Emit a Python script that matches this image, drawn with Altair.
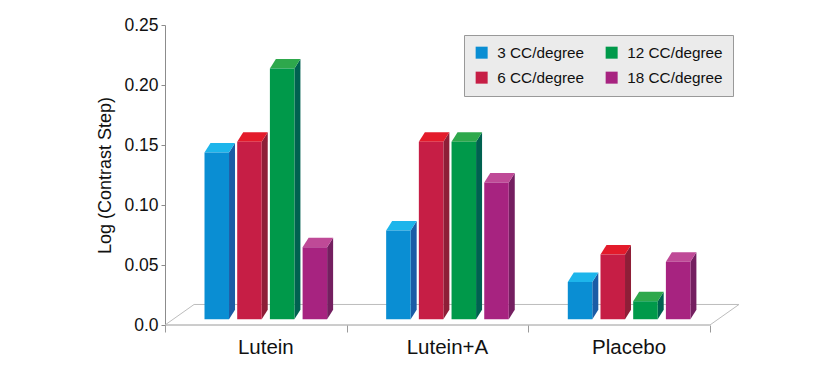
import altair as alt
import pandas as pd

# ---- data ----
groups = ["Lutein", "Lutein+A", "Placebo"]
series = ["3 CC/degree", "6 CC/degree", "12 CC/degree", "18 CC/degree"]
v3 = [0.139, 0.074, 0.031]
v6 = [0.148, 0.148, 0.054]
v12 = [0.209, 0.148, 0.015]
v18 = [0.060, 0.114, 0.048]
y_ticks = [0.0, 0.05, 0.10, 0.15, 0.20, 0.25]

# ---- styles ----
front_colors = ["#0a8ed3", "#c61e45", "#00994a", "#a72380"]
top_colors = ["#1db5eb", "#e31b2b", "#2ea84c", "#bf4a97"]
side_colors = ["#1b5ca6", "#8e1e37", "#006150", "#741f60"]

# geometry of the 3-D look (x in category units, y in value units)
PITCH = 0.18
BAR_W = 0.135
SHIFT = 0.055
SIDE_DX = 0.033
SIDE_DY = 0.0079
BASE = 0.0048
FLOOR_DX = 0.16
FLOOR_DY = 0.0171

vals = [v3, v6, v12, v18]
front, side, top = [], [], []
for si, s in enumerate(series):
    for gi, g in enumerate(groups):
        v = vals[si][gi]
        xl = gi + SHIFT + (si - 1.5) * PITCH - BAR_W / 2
        xr = xl + BAR_W
        yt = BASE + v
        bid = f"{g}-{s}"
        front.append(dict(bar=bid, series=s, group=g, value=v, x=xl, x2=xr, y=BASE, y2=yt))
        side.append(dict(bar=bid, c=side_colors[si], x=xr, y=BASE, y2=yt))
        side.append(dict(bar=bid, c=side_colors[si], x=xr + SIDE_DX, y=BASE + SIDE_DY, y2=yt + SIDE_DY))
        top.append(dict(bar=bid, c=top_colors[si], y=yt, x=xl, x2=xr))
        top.append(dict(bar=bid, c=top_colors[si], y=yt + SIDE_DY, x=xl + SIDE_DX, x2=xr + SIDE_DX))

lo, hi = -0.5, len(groups) - 0.5
floor = pd.DataFrame([
    dict(x=lo, x2=hi, y=0.0, y2=0.0, c="#9a9a9a"),
    dict(x=lo + FLOOR_DX, x2=hi + FLOOR_DX, y=FLOOR_DY, y2=FLOOR_DY, c="#bdbdbd"),
    dict(x=lo, x2=lo + FLOOR_DX, y=0.0, y2=FLOOR_DY, c="#bdbdbd"),
    dict(x=hi, x2=hi + FLOOR_DX, y=0.0, y2=FLOOR_DY, c="#bdbdbd"),
])
labels = pd.DataFrame([dict(group=g, x=i + SHIFT, y=0.0) for i, g in enumerate(groups)])

xs = alt.Scale(domain=[lo, hi + FLOOR_DX], nice=False, zero=False)
ys = alt.Scale(domain=[0, 0.25], nice=False, zero=False)

x_axis = alt.Axis(
    title=None, values=[lo + i for i in range(len(groups) + 1)], labels=False,
    domain=False, grid=False, ticks=True, tickSize=7, tickColor="#9a9a9a",
)
y_axis = alt.Axis(
    title="Log (Contrast Step)", values=y_ticks, grid=False,
    labelExpr="datum.value == 0 ? '0.0' : format(datum.value, '.2f')",
    labelFontSize=17.5, labelColor="#111111", labelPadding=3,
    titleFontSize=18, titleFontWeight="normal", titleColor="#111111", titlePadding=9,
    domainColor="#8c8c8c", tickColor="#8c8c8c", tickSize=4,
)

X = alt.X("x:Q", scale=xs, axis=x_axis, title=None)
Y = alt.Y("y:Q", scale=ys, axis=y_axis, title="Log (Contrast Step)", stack=False)

floor_layer = alt.Chart(floor).mark_rule(strokeWidth=1).encode(
    x=X, x2="x2:Q", y=Y, y2="y2:Q", color=alt.Color("c:N", scale=None)
)

side_layer = alt.Chart(pd.DataFrame(side)).mark_area(orient="vertical", opacity=1).encode(
    x=X, y=Y, y2="y2:Q", detail="bar:N", color=alt.Color("c:N", scale=None)
)

top_layer = alt.Chart(pd.DataFrame(top)).mark_area(orient="horizontal", opacity=1).encode(
    y=alt.Y("y:Q", scale=ys, axis=y_axis, title="Log (Contrast Step)"),
    x=alt.X("x:Q", scale=xs, axis=x_axis, title=None, stack=False),
    x2="x2:Q", detail="bar:N", color=alt.Color("c:N", scale=None),
)

front_layer = alt.Chart(pd.DataFrame(front)).mark_rect(opacity=1).encode(
    x=X, x2="x2:Q", y=Y, y2="y2:Q",
    color=alt.Color(
        "series:N",
        scale=alt.Scale(domain=series, range=front_colors),
        legend=alt.Legend(
            title=None, orient="none", legendX=299, legendY=10, columns=2,
            symbolType="square", symbolSize=144, symbolStrokeWidth=0, symbolOpacity=1,
            labelFontSize=15.3, labelColor="#111111", labelOffset=8, labelLimit=200,
            columnPadding=19, rowPadding=9, padding=10,
            fillColor="#ebebeb", strokeColor="#999999",
        ),
    ),
    tooltip=["group:N", "series:N", "value:Q"],
)

label_layer = alt.Chart(labels).mark_text(
    fontSize=20.5, baseline="alphabetic", align="center", dy=29, color="#111111"
).encode(x=X, y=Y, text="group:N")

chart = alt.layer(
    floor_layer, side_layer, top_layer, front_layer, label_layer
).properties(
    width=574, height=300,
    padding={"left": 157, "top": 17, "right": 80, "bottom": 40},
    autosize=alt.AutoSizeParams(type="none"),
).configure(font="Liberation Sans").configure_view(strokeWidth=0)

chart.save("out.html", embed_options={"renderer": "svg", "actions": False})
